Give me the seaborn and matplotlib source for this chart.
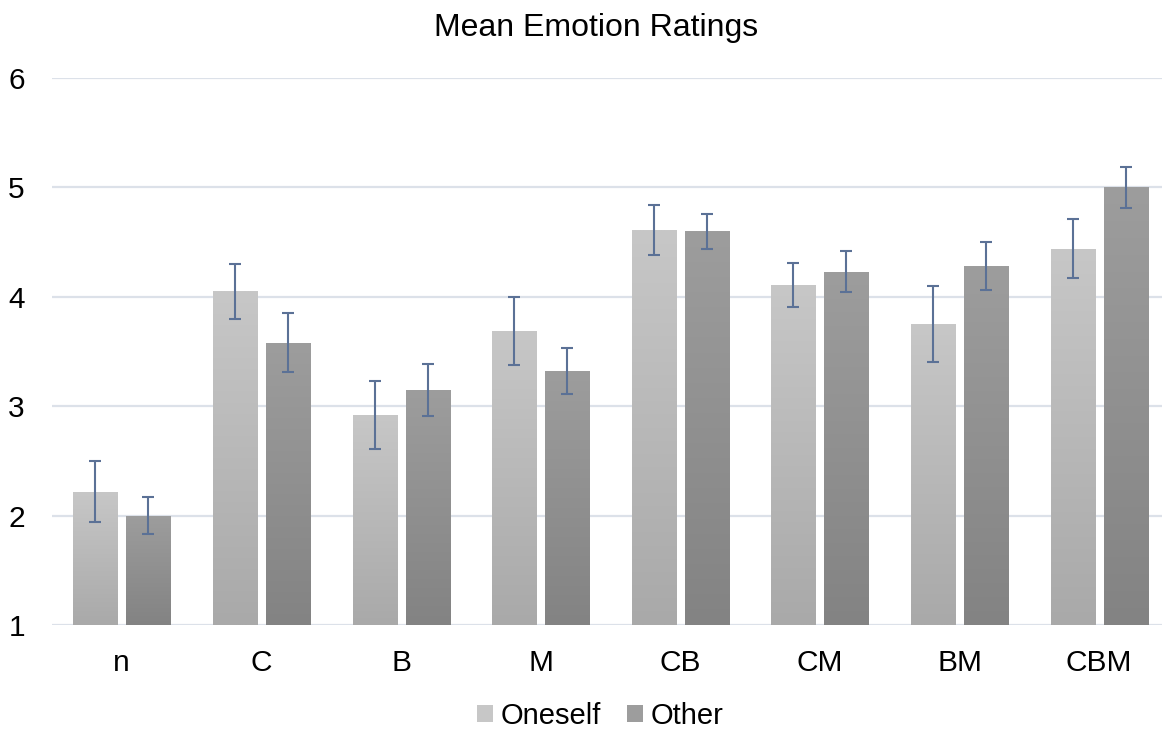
import numpy as np
import pandas as pd
import seaborn as sns
import matplotlib.pyplot as plt
from matplotlib.colors import LinearSegmentedColormap
from matplotlib.patches import Patch

# data
conditions = ['n', 'C', 'B', 'M', 'CB', 'CM', 'BM', 'CBM']
oneself_mean = [2.22, 4.05, 2.92, 3.69, 4.61, 4.11, 3.75, 4.44]
oneself_err = [0.28, 0.25, 0.31, 0.31, 0.23, 0.20, 0.35, 0.27]
other_mean = [2.00, 3.58, 3.15, 3.32, 4.60, 4.23, 4.28, 5.00]
other_err = [0.17, 0.27, 0.24, 0.21, 0.16, 0.19, 0.22, 0.19]
groups = ['Oneself', 'Other']

df = pd.DataFrame({
    'condition': conditions * 2,
    'group': ['Oneself'] * 8 + ['Other'] * 8,
    'mean': oneself_mean + other_mean,
    'err': oneself_err + other_err,
})

sns.set_theme(style='white')
plt.rcParams['font.family'] = ['Liberation Sans', 'DejaVu Sans']
plt.rcParams['text.color'] = 'black'
plt.rcParams['xtick.color'] = 'black'
plt.rcParams['ytick.color'] = 'black'

# gradient colours (top, bottom) per series
grad = {'Oneself': ('#c7c7c7', '#a9a9a9'), 'Other': ('#9d9d9d', '#838383')}

fig = plt.figure(figsize=(11.62, 7.29), dpi=100)
ax = fig.add_axes([52 / 1162, 1 - 625 / 729, 1117 / 1162, 547 / 729])

sns.barplot(data=df, x='condition', y='mean', hue='group', order=conditions,
            hue_order=groups, palette=[grad[g][0] for g in groups],
            width=0.76, gap=0.17, errorbar=None, legend=False, ax=ax)

ax.set_ylim(1, 6)
ax.set_xlim(-0.5, 7.5)

# replace the flat fill with a vertical gradient, then add error bars
for container, g in zip(ax.containers, groups):
    cmap = LinearSegmentedColormap.from_list(g, [grad[g][1], grad[g][0]])
    sub = df[df['group'] == g].set_index('condition').loc[conditions]
    for bar, m, e in zip(container, sub['mean'], sub['err']):
        x0, w = bar.get_x(), bar.get_width()
        bar.set_facecolor('none')
        bar.set_edgecolor('none')
        img = ax.imshow(np.linspace(0, 1, 256).reshape(-1, 1), cmap=cmap,
                        origin='lower', aspect='auto',
                        extent=[x0, x0 + w, 1, m], zorder=2)
        img.set_clip_path(bar)
        ax.errorbar(x0 + w / 2, m, yerr=e, fmt='none', ecolor='#5b7196',
                    elinewidth=1.5, capsize=4.5, capthick=1.5, zorder=3)

ax.set_aspect('auto')
ax.set_xlim(-0.5, 7.5)
ax.set_ylim(1, 6)

ax.set_yticks([1, 2, 3, 4, 5, 6])
ax.yaxis.grid(True, color='#dce1e9', linewidth=1.6)
ax.set_axisbelow(True)
for s in ax.spines.values():
    s.set_visible(False)
ax.tick_params(axis='y', length=0, pad=19.5, labelsize=21.5)
ax.tick_params(axis='x', length=0, pad=17, labelsize=21.5)
ax.set_xlabel('')
ax.set_ylabel('')

fig.text(596 / 1162, 1 - 28 / 729, 'Mean Emotion Ratings', ha='center', va='center', fontsize=23)

handles = [Patch(facecolor=grad[g][0], edgecolor='none') for g in groups]
fig.legend(handles, groups, loc='center', bbox_to_anchor=(600 / 1162, 1 - 716 / 729),
           ncol=2, frameon=False, fontsize=21, handlelength=0.55, handleheight=0.55,
           handletextpad=0.25, columnspacing=0.9)

fig.savefig('out.png', dpi=100)
